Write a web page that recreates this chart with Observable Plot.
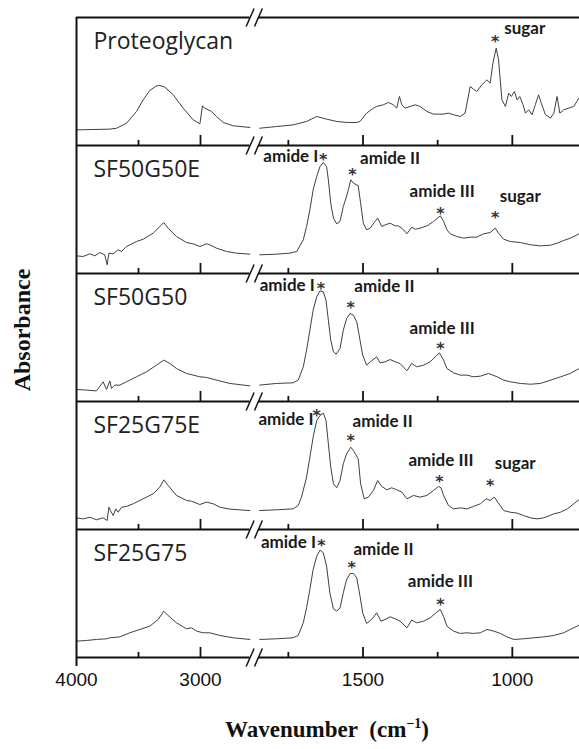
<!DOCTYPE html>
<html><head><meta charset="utf-8">
<script src="https://cdn.jsdelivr.net/npm/d3@7"></script>
<script src="https://cdn.jsdelivr.net/npm/@observablehq/plot@0.6"></script>
<style>
body{margin:0;background:#fff;}
#wrap{position:relative;width:579px;height:749px;overflow:hidden;background:#fff;}
#ylab{position:absolute;left:22px;top:330px;transform:translate(-50%,-50%) rotate(-90deg);font:bold 24px "Liberation Serif","Times New Roman",serif;white-space:nowrap;color:#111;}
#xlab{position:absolute;left:327px;top:730px;transform:translate(-50%,-50%);font:bold 23px "Liberation Serif","Times New Roman",serif;white-space:nowrap;color:#111;}
#xlab sup{font-size:14px;vertical-align:9px;line-height:0;}
</style></head>
<body><div id="wrap"><div id="chart"></div><div id="ylab">Absorbance</div><div id="xlab">Wavenumber&nbsp;&nbsp;(cm<sup>−1</sup>)</div></div>
<script>
const panels = ["Proteoglycan","SF50G50E","SF50G50","SF25G75E","SF25G75"];

// Wavenumbers (cm-1) and relative absorbance (0-100 of panel height)
const wPG = [4000,3866,3731,3677,3597,3516,3462,3409,3355,3328,3288,3220,3140,3059,3005,2984,2965,2938,2911,2871,2817,2737,2602,
  1846,1790,1734,1689,1655,1622,1588,1555,1521,1510,1488,1465,1454,1432,1415,1398,1387,1378,1370,1359,1342,1325,1309,1286,1264,1230,1214,1197,1174,1158,1141,1130,1119,1102,1085,1074,1065,1054,1046,1035,1023,1012,1003,993,984,975,964,956,945,934,923,912,903,889,872,861,850,841,828,811,794,777];
const aPG = [12.2,12.5,12.8,13.5,17.4,26.6,35.7,43,46.6,46.9,45.6,39.6,29.2,20.1,16.9,31,29.2,27.9,26.6,22.7,18,15.4,14.1,
  13.5,14.8,16.1,18.8,22.7,20.6,18.8,18,18,18.8,25.3,29.2,30.5,31.8,33.6,31.8,29.2,38.3,31.8,29.2,30.5,31.8,30.5,26.6,24.5,24.5,25.3,24,22.7,25.3,46.1,44,42.2,47.4,51.3,48.7,64.3,76,66.9,35.7,30.5,40.9,38.3,42.2,35.7,38.3,31.8,25.3,27.9,24,31.8,39.6,33.1,24,21.4,25.3,38.3,25.3,27.9,29.2,30.5,37];

const w5050E = [4000,3946,3892,3852,3812,3772,3753,3739,3704,3664,3637,3597,3516,3462,3382,3328,3296,3261,3194,3113,3059,3005,2952,2925,2871,2790,2710,2602,
  1846,1790,1745,1722,1700,1689,1678,1667,1655,1644,1633,1622,1616,1608,1599,1588,1577,1566,1557,1549,1541,1532,1516,1508,1499,1488,1476,1460,1451,1437,1426,1409,1392,1381,1364,1353,1337,1325,1309,1286,1264,1241,1230,1219,1208,1186,1163,1141,1119,1096,1074,1057,1046,1029,1007,973,939,906,872,850,828,806,783,773];
const a5050E = [13.8,13.3,15.4,13.8,16.4,14.6,6.8,15.9,15.4,18.5,17.2,21.1,25,26.8,31.5,36.7,39.8,35.4,28.9,24.2,23.2,21.1,23.2,22.4,19.8,17.2,15.9,15.1,
  14.6,15.1,15.9,17.2,26.3,36.7,49.7,65.4,75.8,83.6,86.7,83.6,73.2,54.9,43.2,38.8,40.6,52.3,58.9,65.4,73.2,70.6,68.5,54.9,39.3,34.1,35.4,40.6,43.2,36.7,38,39.3,37.2,37.2,34.1,31,36.2,34.6,35.4,37.2,40.6,45.1,40.6,34.1,31,28.9,27.6,28.4,28.4,31,32,35.4,31.5,26.8,25,24.2,22.4,21.6,22.1,23.7,25.8,27.6,30.2,31.5];

const w5050 = [4000,3919,3839,3785,3758,3731,3718,3691,3651,3597,3516,3436,3355,3296,3247,3194,3113,3059,3005,2952,2871,2763,2602,
  1846,1790,1734,1717,1700,1689,1678,1667,1655,1644,1633,1624,1616,1608,1599,1590,1577,1566,1555,1543,1532,1521,1510,1501,1488,1476,1454,1443,1426,1409,1392,1376,1353,1337,1320,1297,1275,1253,1244,1230,1219,1197,1174,1152,1130,1107,1079,1051,1029,1007,973,939,906,872,838,806,783,773];
const a5050 = [9.4,8.9,8.3,15.4,9.4,16.1,10.2,12.8,12.8,15.4,19.3,23.2,28.4,32.3,29.7,25.8,21.9,20.6,19.3,18.8,16.7,14.1,12.2,
  12.8,14.1,14.6,16.7,27.1,40.1,55.7,71.4,81.8,86.5,85.7,79.2,63.5,47.9,38.8,37,41.4,55.7,64.8,68.8,67.4,62.2,47.9,36.2,28.4,31,34.9,30.2,31,32.8,31,29.7,24,29.7,27.1,28.4,31,36.2,38,32.3,25.8,22.4,20.6,20.6,19.3,19.8,21.9,19.3,16.7,15.4,14.1,13.5,14.1,16.7,19.3,21.9,25,25.8];

const w2575E = [4000,3946,3892,3839,3785,3753,3739,3726,3704,3683,3664,3637,3597,3543,3462,3382,3328,3296,3261,3194,3113,3073,3005,2952,2898,2844,2763,2602,
  1846,1790,1734,1717,1706,1689,1678,1667,1655,1644,1633,1624,1616,1608,1599,1588,1577,1566,1555,1541,1532,1516,1508,1496,1482,1465,1451,1437,1420,1404,1387,1370,1353,1331,1309,1286,1264,1247,1239,1230,1214,1197,1174,1152,1130,1107,1087,1074,1060,1049,1029,1007,984,962,939,917,895,861,839,816,794,773];
const a2575E = [9.1,8.3,9.6,7.6,9.1,7,17.4,14.8,10.9,16.1,13.5,17.4,18,20.1,24,27.9,33.1,38.8,34.4,26.6,22.7,22.1,19.5,21.4,20.1,17.4,15.9,14.8,
  14.8,15.4,16.1,18.8,25.3,40.9,56.5,72.1,85.2,89.1,90.9,85.2,66.9,48.7,35.7,32.6,38.3,51.3,59.1,64.3,61.7,55.2,35.7,24,25.3,30.5,38.3,33.6,31,32.6,31,29.2,24,26.6,25.3,26.6,30.5,33.6,32.6,26.6,18.8,16.1,16.9,16.1,18,20.1,24,22.7,25.3,21.4,14.8,13.5,12.8,10.9,9.1,8.3,9.1,12.2,13.5,16.1,20.1,24];

const w2575 = [4000,3919,3839,3758,3731,3651,3570,3489,3409,3341,3296,3261,3194,3113,3073,3032,2979,2925,2844,2737,2602,
  1846,1790,1734,1717,1700,1689,1678,1667,1655,1644,1633,1622,1611,1599,1588,1577,1566,1555,1543,1532,1521,1510,1501,1488,1471,1454,1440,1426,1409,1392,1376,1353,1337,1320,1297,1275,1253,1241,1230,1219,1197,1174,1152,1130,1107,1085,1062,1040,1018,995,962,928,895,861,828,806,783,773];
const a2575 = [12.8,13.3,14.1,14.6,15.4,16.1,19.3,21.9,24.5,29.7,36.2,32.8,27.1,22.4,23.2,20.6,19.3,19.3,17.2,15.4,14.1,
  14.1,14.6,15.4,17.2,27.1,38.8,53.1,68.8,79.2,83.9,81.8,71.4,50.5,38,36.2,38.8,50.5,60.9,65.6,65.6,62.2,47.9,34.9,26.6,29.7,34.9,28.4,29.7,31.8,30.2,28.4,23.2,29.2,27.1,28.4,31,35.4,37.5,31.8,24.5,20.6,18.8,19.3,18.8,19.3,21.9,20.6,18.8,16.1,14.1,14.6,15.4,16.1,17.2,19.3,21.9,24.5,25.8];

// annotations
const annPanel = ["Proteoglycan","SF50G50E","SF50G50E","SF50G50E","SF50G50E","SF50G50","SF50G50","SF50G50","SF25G75E","SF25G75E","SF25G75E","SF25G75E","SF25G75","SF25G75","SF25G75"];
const annText = ["sugar","amide I","amide II","amide III","sugar","amide I","amide II","amide III","amide I","amide II","amide III","sugar","amide I","amide II","amide III"];
const annTextW = [1027,1834,1510,1344,1042,1846,1529,1344,1854,1535,1348,1059,1842,1532,1350];
const annTextA = [91.7,91.4,90.1,64,60,90.9,89.6,57,85.9,84.6,54,51.2,89.6,84.4,59];
const starW = [1057,1633,1535,1241,1057,1641,1541,1241,1655,1541,1244,1074,1639,1538,1241];
const starA = [84.6,92.7,81,50.3,47.1,92.2,77.1,44.8,93,73.4,40.9,37.8,90.9,74,44.8];

// axis ticks
const tickLabels = [4000,3000,1500,1000];
const majorTicks = [3000,1500,1000];
const minorTicks = [3500,1750,1250];

const Ws = [wPG,w5050E,w5050,w2575E,w2575];
const As = [aPG,a5050E,a5050,a2575E,a2575];
const rows = panels.flatMap((p,i)=>Ws[i].map((w,j)=>({panel:p,w,a:As[i][j],seg:w>2200?"hi":"lo"})));
const ann = annPanel.map((p,i)=>({panel:p,text:annText[i],tw:annTextW[i],ta:annTextA[i],sw:starW[i],sa:starA[i]}));
const axisSegs = [{x1:4000,x2:2600},{x1:1850,x2:775}];
const slashes = [{x1:2632,x2:2243},{x1:2207,x2:1837}];

const ink = "#111";
const chart = Plot.plot({
  width:579, height:700,
  marginTop:16, marginBottom:43, marginLeft:76, marginRight:0,
  style:{fontFamily:"'Liberation Sans', Arial, sans-serif", fontSize:"19px", color:ink, background:"white", overflow:"visible"},
  x:{type:"linear", domain:[4000,2600,1850,775], range:[76,249.6,258,579], ticks:tickLabels, tickSize:0, tickPadding:15, tickFormat:d=>String(d), label:null},
  y:{type:"linear", domain:[0,100], axis:null},
  fy:{domain:panels, padding:0, axis:null, label:null},
  marks:[
    Plot.line(rows,{x:"w",y:"a",z:"seg",fy:"panel",stroke:"#404040",strokeWidth:1}),
    Plot.ruleX([4000],{stroke:ink,strokeWidth:2}),
    Plot.ruleX([{panel:"SF25G75"}],{x:()=>4000,y1:()=>0,y2:()=>-7,fy:"panel",stroke:ink,strokeWidth:2}),
    Plot.ruleY(axisSegs,{x1:"x1",x2:"x2",y:()=>0,stroke:ink,strokeWidth:2}),
    Plot.ruleY(axisSegs.map(d=>({...d,panel:"Proteoglycan"})),{x1:"x1",x2:"x2",y:()=>100,fy:"panel",stroke:ink,strokeWidth:2}),
    Plot.link(slashes,{x1:"x1",x2:"x2",y1:()=>-7,y2:()=>7,stroke:ink,strokeWidth:1.5}),
    Plot.link(slashes.map(d=>({...d,panel:"Proteoglycan"})),{x1:"x1",x2:"x2",y1:()=>93,y2:()=>107,fy:"panel",stroke:ink,strokeWidth:1.5}),
    Plot.ruleX(majorTicks,{x:d=>d,y1:()=>0,y2:()=>7.8,stroke:ink,strokeWidth:1.8}),
    Plot.ruleX(minorTicks,{x:d=>d,y1:()=>0,y2:()=>4,stroke:ink,strokeWidth:1.8}),
    Plot.text(panels,{x:()=>3863,y:()=>80.8,text:d=>d,fy:d=>d,textAnchor:"start",lineAnchor:"middle",fontSize:23,fontFamily:"'Open Sans', sans-serif",fill:"#222"}),
    Plot.text(ann,{x:"tw",y:"ta",text:"text",fy:"panel",textAnchor:"start",lineAnchor:"middle",fontSize:17,fontWeight:"bold",fontFamily:"Lato, sans-serif",fill:"#1a1a1a"}),
    Plot.text(ann,{x:"sw",y:"sa",text:()=>"*",fy:"panel",textAnchor:"middle",lineAnchor:"middle",dy:5,fontSize:16,fontWeight:"bold",fontFamily:"'DejaVu Sans', sans-serif",fill:"#333"})
  ]
});
document.getElementById("chart").appendChild(chart);
</script>
</body></html>
